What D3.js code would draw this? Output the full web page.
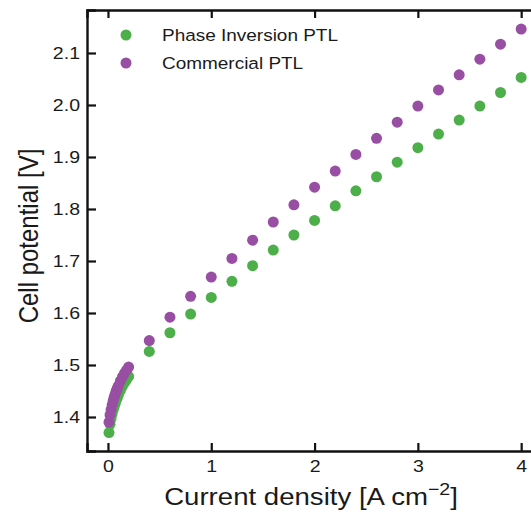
<!DOCTYPE html>
<html>
<head>
<meta charset="utf-8">
<script src="https://cdn.jsdelivr.net/npm/d3@7"></script>
<style>
  body { margin: 0; background: #fff; }
  text { font-family: "Liberation Sans", Arial, sans-serif; fill: #1a1a1a; }
</style>
</head>
<body>
<div id="chart"></div>
<script>
// Data
// current density [A cm^-2]
var currentDensity = [0.01, 0.02, 0.03, 0.04, 0.05, 0.06, 0.07, 0.08, 0.09, 0.10,
  0.12, 0.14, 0.16, 0.18, 0.20,
  0.4, 0.6, 0.8, 1.0, 1.2, 1.4, 1.6, 1.8, 2.0, 2.2, 2.4, 2.6, 2.8, 3.0,
  3.2, 3.4, 3.6, 3.8, 4.0];

// cell potential [V]
var phaseInversion = [1.370, 1.386, 1.397, 1.406, 1.414, 1.420, 1.426, 1.432, 1.437, 1.442,
  1.451, 1.459, 1.466, 1.472, 1.478,
  1.526, 1.562, 1.598, 1.630, 1.661, 1.691, 1.721, 1.750, 1.778, 1.806, 1.835, 1.862, 1.890, 1.918,
  1.944, 1.971, 1.998, 2.024, 2.053];

var commercial = [1.390, 1.404, 1.414, 1.423, 1.431, 1.438, 1.444, 1.450, 1.455, 1.460,
  1.469, 1.477, 1.484, 1.490, 1.496,
  1.547, 1.592, 1.632, 1.669, 1.705, 1.740, 1.775, 1.808, 1.842, 1.873, 1.905, 1.936, 1.967, 1.998,
  2.029, 2.058, 2.088, 2.117, 2.146];

var seriesNames = ["Phase Inversion PTL", "Commercial PTL"];
var seriesColors = ["#4daf4a", "#984ea3"];
var xTicks = [0, 1, 2, 3, 4];
var yTicks = [1.4, 1.5, 1.6, 1.7, 1.8, 1.9, 2.0, 2.1];

var svgWidth = 531;
var svgHeight = 516;

// the picture is a bit wider than tall, so text gets a horizontal stretch
var stretch = 1.15;

var margin = { top: 10, right: -12, bottom: 65, left: 87 };
var width = svgWidth - margin.left - margin.right;
var height = svgHeight - margin.top - margin.bottom;

var svg = d3.select("#chart")
  .append("svg")
  .attr("width", svgWidth)
  .attr("height", svgHeight);

var chartGroup = svg.append("g")
  .attr("transform", `translate(${margin.left}, ${margin.top})`);

// scales
var xScale = d3.scaleLinear()
  .domain([-0.203, -0.203 + width / 103.3])
  .range([0, width]);

var yScale = d3.scaleLinear()
  .domain([1.3346, 1.3346 + height / 520])
  .range([height, 0]);

// points, commercial drawn last (on top)
var allSeries = [phaseInversion, commercial];
allSeries.forEach(function(vals, i) {
  chartGroup.append("g")
    .selectAll("circle")
    .data(currentDensity.map((c, k) => [c, vals[k]]))
    .enter()
    .append("circle")
    .attr("cx", d => xScale(d[0]))
    .attr("cy", d => yScale(d[1]))
    .attr("r", 5.5)
    .attr("fill", seriesColors[i]);
});

// axes with inward ticks
var bottomAxis = d3.axisBottom(xScale).tickValues(xTicks).tickSize(-8).tickPadding(9)
  .tickFormat(d3.format("d"));
var topAxis = d3.axisTop(xScale).tickValues(xTicks).tickSize(-8).tickFormat("");
var leftAxis = d3.axisLeft(yScale).tickValues(yTicks).tickSize(-9).tickPadding(7)
  .tickFormat(d3.format(".1f"));

function styleAxis(g) {
  g.select(".domain").attr("stroke", "#111").attr("stroke-width", 2.4);
  g.selectAll(".tick line").attr("stroke", "#111").attr("stroke-width", 2.2);
  g.selectAll(".tick text").style("font-size", "17px")
    .style("font-family", "Liberation Sans, Arial, sans-serif").attr("fill", "#1a1a1a")
    .each(function() {
      var t = d3.select(this);
      var x = +t.attr("x") || 0;
      t.attr("x", x / stretch).attr("transform", `scale(${stretch},1)`);
    });
}

chartGroup.append("g")
  .attr("transform", `translate(0, ${height})`)
  .call(bottomAxis)
  .call(styleAxis);

chartGroup.append("g")
  .call(topAxis)
  .call(styleAxis);

chartGroup.append("g")
  .call(leftAxis)
  .call(styleAxis);

// axis titles
svg.append("g")
  .attr("transform", `translate(38, 236) scale(${stretch},1) rotate(-90)`)
  .append("text")
  .attr("text-anchor", "middle")
  .style("font-size", "24px")
  .text("Cell potential [V]");

var xTitle = svg.append("g")
  .attr("transform", `translate(311, 505) scale(${stretch},1)`)
  .append("text")
  .attr("text-anchor", "middle")
  .style("font-size", "24px");
xTitle.append("tspan").text("Current density [A cm");
xTitle.append("tspan").attr("dy", -10).style("font-size", "17px").text("\u22122");
xTitle.append("tspan").attr("dy", 10).text("]");

// legend
var legend = svg.append("g");
seriesNames.forEach(function(name, i) {
  var ly = 35 + i * 28;
  legend.append("circle")
    .attr("cx", 126)
    .attr("cy", ly)
    .attr("r", 5.5)
    .attr("fill", seriesColors[i]);
  legend.append("g")
    .attr("transform", `translate(162, ${ly + 6}) scale(${stretch},1)`)
    .append("text")
    .style("font-size", "16.5px")
    .text(name);
});
</script>
</body>
</html>
